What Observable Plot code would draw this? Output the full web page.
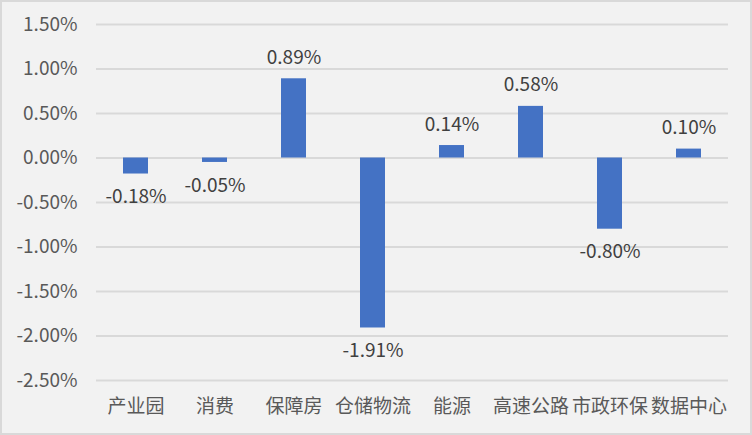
<!DOCTYPE html>
<html>
<head>
<meta charset="utf-8">
<script src="https://cdn.jsdelivr.net/npm/d3@7"></script>
<script src="https://cdn.jsdelivr.net/npm/@observablehq/plot@0.6"></script>
<style>
  html, body { margin: 0; padding: 0; background: #f2f2f2; }
  svg { display: block; }
</style>
</head>
<body>
<div id="chart"></div>
<script>
const categories = ["产业园", "消费", "保障房", "仓储物流", "能源", "高速公路", "市政环保", "数据中心"];
const values = [-0.0018, -0.0005, 0.0089, -0.0191, 0.0014, 0.0058, -0.0080, 0.0010];
const yTicks = [-0.025, -0.02, -0.015, -0.01, -0.005, 0, 0.005, 0.01, 0.015];

const data = categories.map((c, i) => ({category: c, value: values[i]}));
const fmt = d3.formatLocale({decimal: ".", thousands: ",", grouping: [3], currency: ["", ""], minus: "-"}).format(".2%");
const font = "'Noto Sans CJK SC', 'Noto Sans', sans-serif";

const chart = Plot.plot({
  width: 752,
  height: 435,
  marginLeft: 96,
  marginRight: 24,
  marginTop: 24,
  marginBottom: 55,
  style: {
    background: "#f2f2f2",
    fontFamily: font,
    fontSize: "19px",
    color: "#595959",
    outline: "2px solid #d9d9d9",
    outlineOffset: "-2px"
  },
  x: {domain: categories, paddingInner: 0.68, paddingOuter: 0.34, label: null},
  y: {domain: [-0.025, 0.015], label: null},
  marks: [
    Plot.gridY(yTicks, {stroke: "#d9d9d9", strokeOpacity: 1, strokeWidth: 2}),
    Plot.axisY(yTicks, {tickFormat: fmt, tickSize: 0, tickPadding: 19, fontSize: 19, fill: "#595959"}),
    Plot.axisX({tickSize: 0, tickPadding: 19, fontSize: 19, fill: "#595959"}),
    Plot.barY(data, {x: "category", y: "value", fill: "#4472C4"}),
    Plot.text(data.filter(d => d.value >= 0), {x: "category", y: "value", text: d => fmt(d.value), dy: -21, fontSize: 19, fill: "#404040"}),
    Plot.text(data.filter(d => d.value < 0), {x: "category", y: "value", text: d => fmt(d.value), dy: 23, fontSize: 19, fill: "#404040"})
  ]
});
document.getElementById("chart").appendChild(chart);
</script>
</body>
</html>
